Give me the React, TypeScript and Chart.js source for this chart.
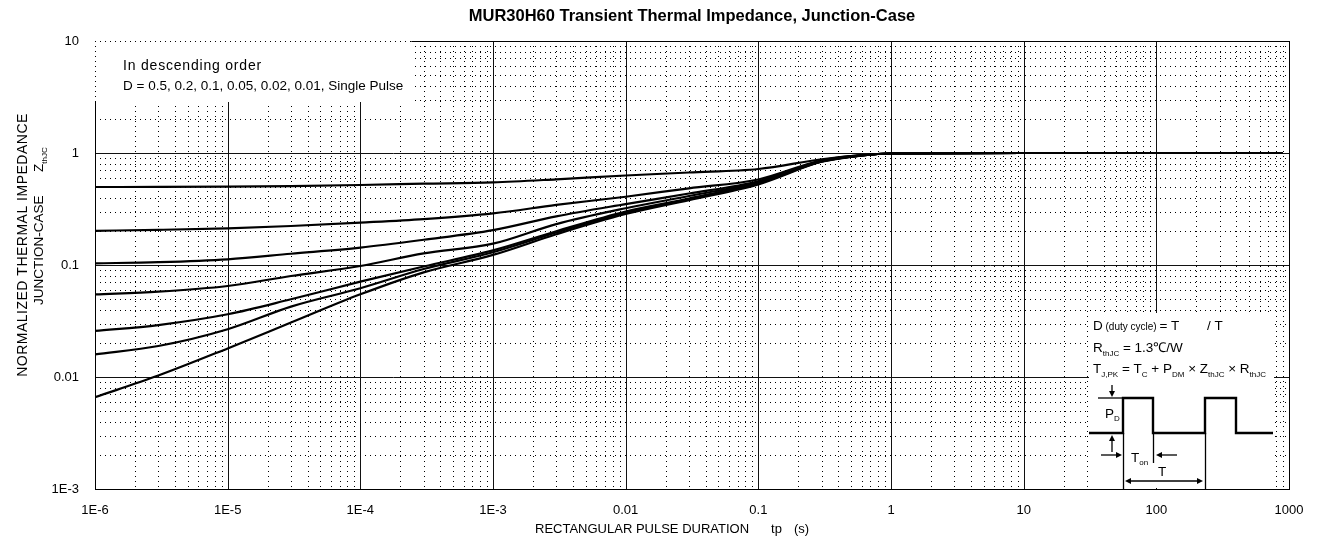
import React, { useEffect, useRef } from "react";
import { Chart, registerables } from "chart.js";

Chart.register(...registerables);

const FONT = "'Liberation Sans', Arial, Helvetica, sans-serif";

// ---- data ----
const pulseDurations = [1e-6, 3e-6, 1e-5, 3e-5, 1e-4, 3e-4, 1e-3, 3e-3, 0.01, 0.03, 0.1, 0.3, 0.6, 1, 10, 100, 900];
const dutyCycles = ["0.5", "0.2", "0.1", "0.05", "0.02", "0.01"];
const seriesNames = ["D = 0.5", "D = 0.2", "D = 0.1", "D = 0.05", "D = 0.02", "D = 0.01", "Single Pulse"];
const zthD050 = [0.497, 0.498, 0.501, 0.507, 0.518, 0.532, 0.547, 0.582, 0.63, 0.67, 0.72, 0.88, 0.96, 0.99, 1, 1, 1];
const zthD020 = [0.202, 0.206, 0.2125, 0.223, 0.239, 0.257, 0.289, 0.344, 0.407, 0.484, 0.58, 0.86, 0.955, 0.99, 1, 1, 1];
const zthD010 = [0.1035, 0.106, 0.1124, 0.126, 0.143, 0.168, 0.205, 0.272, 0.35, 0.435, 0.56, 0.85, 0.95, 0.99, 1, 1, 1];
const zthD005 = [0.0547, 0.0578, 0.0649, 0.0798, 0.098, 0.127, 0.155, 0.232, 0.321, 0.413, 0.55, 0.845, 0.95, 0.99, 1, 1, 1];
const zthD002 = [0.0258, 0.0291, 0.0363, 0.0494, 0.071, 0.097, 0.135, 0.2, 0.3, 0.392, 0.54, 0.84, 0.95, 0.99, 1, 1, 1];
const zthD001 = [0.0159, 0.0189, 0.0267, 0.0425, 0.062, 0.092, 0.13, 0.195, 0.293, 0.387, 0.535, 0.84, 0.95, 0.99, 1, 1, 1];
const zthSingle = [0.0066, 0.0103, 0.018, 0.0306, 0.0547, 0.086, 0.123, 0.188, 0.285, 0.38, 0.525, 0.835, 0.95, 0.99, 1, 1, 1];
const seriesValues = [zthD050, zthD020, zthD010, zthD005, zthD002, zthD001, zthSingle];

const xTickValues = [1e-6, 1e-5, 1e-4, 1e-3, 0.01, 0.1, 1, 10, 100, 1000];
const xTickLabels = ["1E-6", "1E-5", "1E-4", "1E-3", "0.01", "0.1", "1", "10", "100", "1000"];
const yTickValues = [1e-3, 0.01, 0.1, 1, 10];
const yTickLabels = ["1E-3", "0.01", "0.1", "1", "10"];

const titleText = "MUR30H60 Transient Thermal Impedance, Junction-Case";
const xTitleMain = "RECTANGULAR PULSE DURATION";
const xTitleUnit = ["tp", "(s)"];
const yTitleLine1 = "NORMALIZED THERMAL IMPEDANCE";
const yTitleLine2 = "JUNCTION-CASE";
const legendLine1 = "In descending order";
const legendLine2 = "D = " + dutyCycles.join(", ") + ", Single Pulse";

type Part = [string, number, number]; // text, font size, baseline shift

function rich(ctx: CanvasRenderingContext2D, x: number, y: number, parts: Part[]) {
  let cx = x;
  for (const [t, size, dy] of parts) {
    ctx.font = `${size}px ${FONT}`;
    ctx.fillText(t, cx, y + dy);
    cx += ctx.measureText(t).width;
  }
  return cx;
}

function seg(ctx: CanvasRenderingContext2D, x1: number, y1: number, x2: number, y2: number) {
  ctx.beginPath();
  ctx.moveTo(x1, y1);
  ctx.lineTo(x2, y2);
  ctx.stroke();
}

function arrowHead(ctx: CanvasRenderingContext2D, x: number, y: number, dx: number, dy: number) {
  const len = 6, wid = 3;
  const px = -dy, py = dx;
  ctx.beginPath();
  ctx.moveTo(x, y);
  ctx.lineTo(x - dx * len + px * wid, y - dy * len + py * wid);
  ctx.lineTo(x - dx * len - px * wid, y - dy * len - py * wid);
  ctx.closePath();
  ctx.fill();
}

function setSpacing(ctx: any, v: string) {
  if ("letterSpacing" in ctx) ctx.letterSpacing = v;
}

const decorPlugin = {
  id: "zthDecor",
  beforeDatasetsDraw(chart: any) {
    const { ctx, chartArea: a, scales } = chart;
    const xs = scales.x;
    const ys = scales.y;
    ctx.save();
    ctx.strokeStyle = "#000";
    ctx.lineWidth = 1;

    // minor dotted grid
    ctx.setLineDash([1, 4]);
    for (let e = -6; e < 3; e++) {
      for (let m = 2; m <= 9; m++) {
        const px = Math.round(xs.getPixelForValue(m * Math.pow(10, e))) + 0.5;
        seg(ctx, px, a.top, px, a.bottom);
      }
    }
    for (let e = -3; e < 1; e++) {
      for (let m = 2; m <= 9; m++) {
        const py = Math.round(ys.getPixelForValue(m * Math.pow(10, e))) + 0.5;
        seg(ctx, a.left, py, a.right, py);
      }
    }
    // major solid grid
    ctx.setLineDash([]);
    ctx.strokeStyle = "#111";
    for (const v of xTickValues) {
      const px = Math.round(xs.getPixelForValue(v)) + 0.5;
      seg(ctx, px, a.top, px, a.bottom);
    }
    for (const v of yTickValues) {
      const py = Math.round(ys.getPixelForValue(v)) + 0.5;
      seg(ctx, a.left, py, a.right, py);
    }
    ctx.strokeStyle = "#000";
    ctx.strokeRect(Math.round(a.left) + 0.5, Math.round(a.top) + 0.5, Math.round(a.right - a.left), Math.round(a.bottom - a.top));

    // legend note box (top-left)
    ctx.textBaseline = "alphabetic";
    ctx.textAlign = "left";
    ctx.font = `13.5px ${FONT}`;
    const tx = a.left + 28;
    const w2 = ctx.measureText(legendLine2).width;
    const w = w2 + 28 + 8;
    ctx.fillStyle = "#fff";
    ctx.fillRect(a.left, a.top, w, 61);
    ctx.strokeStyle = "#000";
    ctx.setLineDash([1, 4]);
    seg(ctx, a.left, Math.round(a.top) + 0.5, a.left + w, Math.round(a.top) + 0.5);
    seg(ctx, Math.round(a.left) + 0.5, a.top, Math.round(a.left) + 0.5, a.top + 61);
    ctx.setLineDash([]);
    ctx.fillStyle = "#000";
    ctx.fillText(legendLine2, tx, a.top + 48.5);
    ctx.font = `14px ${FONT}`;
    setSpacing(ctx, "0.8px");
    ctx.fillText(legendLine1, tx, a.top + 28.5);
    setSpacing(ctx, "0px");

    // inset box (bottom-right)
    const bx = a.right - 200;
    const by = a.bottom - 176;
    ctx.fillStyle = "#fff";
    ctx.fillRect(bx, by, 185, a.bottom - by - 1);
    ctx.fillStyle = "#000";
    rich(ctx, bx + 4, by + 17, [["D", 13.5, 0], [" (duty cycle) ", 10, 0], ["= T", 13.5, 0]]);
    rich(ctx, bx + 118, by + 17, [["/ T", 13.5, 0]]);
    rich(ctx, bx + 4, by + 39, [["R", 13.5, 0], ["thJC", 8, 4], [" = 1.3\u2103/W", 13.5, 0]]);
    rich(ctx, bx + 4, by + 60, [
      ["T", 13.5, 0], ["J,PK", 8, 4], [" = T", 13.5, 0], ["C", 8, 4], [" + P", 13.5, 0], ["DM", 8, 4],
      [" \u00d7 Z", 13.5, 0], ["thJC", 8, 4], [" \u00d7 R", 13.5, 0], ["thJC", 8, 4],
    ]);

    // pulse waveform
    const yb = by + 120;
    const yt = by + 85;
    ctx.lineWidth = 2.4;
    ctx.beginPath();
    ctx.moveTo(bx, yb);
    ctx.lineTo(bx + 34, yb);
    ctx.lineTo(bx + 34, yt);
    ctx.lineTo(bx + 64, yt);
    ctx.lineTo(bx + 64, yb);
    ctx.lineTo(bx + 116, yb);
    ctx.lineTo(bx + 116, yt);
    ctx.lineTo(bx + 147, yt);
    ctx.lineTo(bx + 147, yb);
    ctx.lineTo(bx + 184, yb);
    ctx.stroke();

    ctx.lineWidth = 1.3;
    seg(ctx, bx + 9, yt, bx + 34, yt);
    seg(ctx, bx + 23, by + 72, bx + 23, by + 80);
    arrowHead(ctx, bx + 23, by + 84, 0, 1);
    rich(ctx, bx + 16, by + 105, [["P", 13.5, 0], ["D", 8, 3]]);
    seg(ctx, bx + 23, by + 139, bx + 23, by + 126);
    arrowHead(ctx, bx + 23, by + 122, 0, -1);
    seg(ctx, bx + 12, by + 142, bx + 28, by + 142);
    arrowHead(ctx, bx + 33, by + 142, 1, 0);
    seg(ctx, bx + 34.5, yb, bx + 34.5, a.bottom);
    seg(ctx, bx + 64.5, yb, bx + 64.5, by + 150);
    seg(ctx, bx + 116.5, yb, bx + 116.5, a.bottom);
    rich(ctx, bx + 42, by + 149, [["T", 13.5, 0], ["on", 8, 3]]);
    seg(ctx, bx + 72, by + 142, bx + 88, by + 142);
    arrowHead(ctx, bx + 67, by + 142, -1, 0);
    rich(ctx, bx + 69, by + 163, [["T", 13.5, 0]]);
    seg(ctx, bx + 41, by + 168, bx + 109, by + 168);
    arrowHead(ctx, bx + 36, by + 168, -1, 0);
    arrowHead(ctx, bx + 114, by + 168, 1, 0);

    ctx.restore();
  },
  afterDraw(chart: any) {
    const { ctx, chartArea: a } = chart;
    ctx.save();
    ctx.fillStyle = "#000";
    // title
    ctx.font = `bold 16.5px ${FONT}`;
    ctx.textAlign = "center";
    ctx.textBaseline = "middle";
    ctx.fillText(titleText, (a.left + a.right) / 2, 16);
    // x title
    ctx.textAlign = "left";
    ctx.textBaseline = "alphabetic";
    ctx.font = `13px ${FONT}`;
    const xStart = 535;
    let x = xStart + ctx.measureText(xTitleMain).width;
    ctx.fillText(xTitleMain, xStart, 532.5);
    x += 22;
    ctx.fillText(xTitleUnit[0], x, 532.5);
    x += ctx.measureText(xTitleUnit[0]).width + 12;
    ctx.fillText(xTitleUnit[1], x, 532.5);
    // y title (rotated)
    ctx.save();
    ctx.translate(26.7, 0);
    ctx.rotate(-Math.PI / 2);
    ctx.font = `14px ${FONT}`;
    setSpacing(ctx, "0.5px");
    ctx.textAlign = "center";
    ctx.fillText(yTitleLine1, -245, 0);
    setSpacing(ctx, "0px");
    ctx.restore();
    ctx.save();
    ctx.translate(43.3, 0);
    ctx.rotate(-Math.PI / 2);
    ctx.textAlign = "left";
    ctx.font = `13.5px ${FONT}`;
    ctx.fillText(yTitleLine2, -305, 0);
    rich(ctx, -172, 0, [["Z", 13.5, 0], ["thJC", 8, 4]]);
    ctx.restore();
    ctx.restore();
  },
};

export default function App() {
  const ref = useRef<HTMLCanvasElement>(null);
  useEffect(() => {
    const canvas = ref.current;
    if (!canvas) return;
    Chart.defaults.font.family = FONT;
    const chart = new Chart(canvas, {
      type: "line",
      data: {
        datasets: seriesValues.map((vals, i) => ({
          label: seriesNames[i],
          data: pulseDurations.map((t, j) => ({ x: t, y: vals[j] })),
          borderColor: "#000",
          backgroundColor: "#000",
          borderWidth: 2.2,
          pointRadius: 0,
          cubicInterpolationMode: "monotone" as const,
          fill: false,
        })),
      },
      options: {
        responsive: false,
        animation: false,
        devicePixelRatio: 1,
        layout: { padding: { top: 41, right: 28, bottom: 0, left: 0 } },
        plugins: { legend: { display: false }, tooltip: { enabled: false }, title: { display: false } },
        scales: {
          x: {
            type: "logarithmic",
            position: "bottom",
            min: 1e-6,
            max: 1000,
            grid: { display: false },
            border: { display: false },
            afterBuildTicks: (s: any) => {
              s.ticks = xTickValues.map((value) => ({ value }));
            },
            afterFit: (s: any) => {
              s.height = 55;
            },
            ticks: {
              autoSkip: false,
              maxRotation: 0,
              padding: 6,
              color: "#000",
              font: { size: 13, family: FONT },
              callback: (_v: any, i: number) => xTickLabels[i],
            },
          },
          y: {
            type: "logarithmic",
            position: "left",
            min: 1e-3,
            max: 10,
            grid: { display: false },
            border: { display: false },
            afterBuildTicks: (s: any) => {
              s.ticks = yTickValues.map((value) => ({ value }));
            },
            afterFit: (s: any) => {
              s.width = 95;
            },
            ticks: {
              autoSkip: false,
              padding: 8,
              color: "#000",
              font: { size: 13, family: FONT },
              callback: (_v: any, i: number) => yTickLabels[i],
            },
          },
        },
      },
      plugins: [decorPlugin],
    } as any);
    return () => chart.destroy();
  }, []);
  return (
    <div style={{ position: "fixed", left: 0, top: 0, width: 1317, height: 544, background: "#fff" }}>
      <canvas ref={ref} width={1317} height={544} style={{ display: "block", width: 1317, height: 544 }} />
    </div>
  );
}
